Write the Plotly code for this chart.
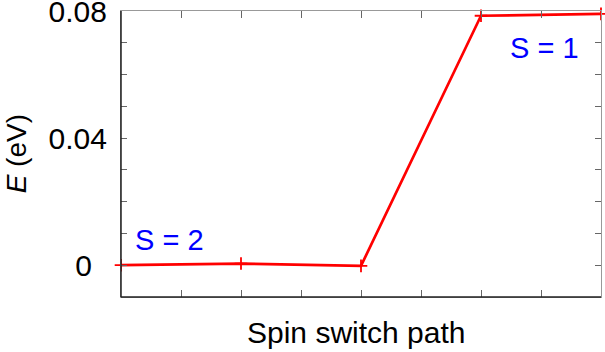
import plotly.graph_objects as go

path_index = [0, 1, 2, 3, 4]
energy_ev = [0.0, 0.00053, -0.0002, 0.0785, 0.0791]
y_tick_vals = [-0.01, 0.0, 0.01, 0.02, 0.03, 0.04, 0.05, 0.06, 0.07, 0.08]
y_tick_text = ["", "0\u2002", "", "", "", "0.04", "", "", "", "0.08"]
x_tick_vals = [0, 0.5, 1, 1.5, 2, 2.5, 3, 3.5, 4]
spin_labels = ["S = 2", "S = 1"]
spin_label_x = [0.40, 3.53]
spin_label_y = [0.0080, 0.0684]

FONT = "Liberation Sans"

fig = go.Figure()
fig.add_trace(go.Scatter(
    x=path_index, y=energy_ev, mode="lines+markers",
    line=dict(color="#ff0000", width=2.7),
    marker=dict(symbol="cross-thin", size=9, line=dict(color="#ff0000", width=1.8)),
    cliponaxis=False, showlegend=False,
))

for t, xx, yy in zip(spin_labels, spin_label_x, spin_label_y):
    fig.add_annotation(x=xx, y=yy, text=t, showarrow=False,
                       font=dict(family=FONT, size=29, color="#0000ff"),
                       xanchor="center", yanchor="middle")

fig.add_annotation(xref="paper", yref="paper", x=-0.218, y=0.5, text="<i>E</i> (eV)",
                   textangle=-90, showarrow=False, xanchor="center", yanchor="middle",
                   font=dict(family=FONT, size=28, color="#000000"))
fig.add_annotation(xref="paper", yref="paper", x=0.49, y=-0.125, text="Spin switch path",
                   showarrow=False, xanchor="center", yanchor="middle",
                   font=dict(family=FONT, size=30, color="#000000"))

# frame: dark left/bottom, gray top/right
fig.add_shape(type="line", xref="paper", yref="paper", x0=0, x1=0, y0=0, y1=1,
              line=dict(color="#222222", width=1.5))
fig.add_shape(type="line", xref="paper", yref="paper", x0=0, x1=1, y0=0, y1=0,
              line=dict(color="#222222", width=1.5))

fig.update_xaxes(range=[0, 4], tickvals=x_tick_vals, showticklabels=False,
                 ticks="inside", ticklen=7, tickcolor="#666666", tickwidth=1.2,
                 showline=True, linecolor="#999999", linewidth=1.2, mirror="ticks",
                 showgrid=False, zeroline=False, automargin=False)
fig.update_yaxes(range=[-0.01, 0.08], tickvals=y_tick_vals, ticktext=y_tick_text,
                 ticks="inside", ticklen=6, tickcolor="#666666", tickwidth=1.2,
                 showline=True, linecolor="#999999", linewidth=1.2, mirror="ticks",
                 showgrid=False, zeroline=False, ticklabelstandoff=7,
                 ticklabeloverflow="allow", automargin=False,
                 tickfont=dict(family=FONT, size=30, color="#000000"))

fig.update_layout(width=605, height=352, margin=dict(l=121, r=4, t=11, b=55, autoexpand=False),
                  plot_bgcolor="white", paper_bgcolor="white")

fig.write_html("out.html")
